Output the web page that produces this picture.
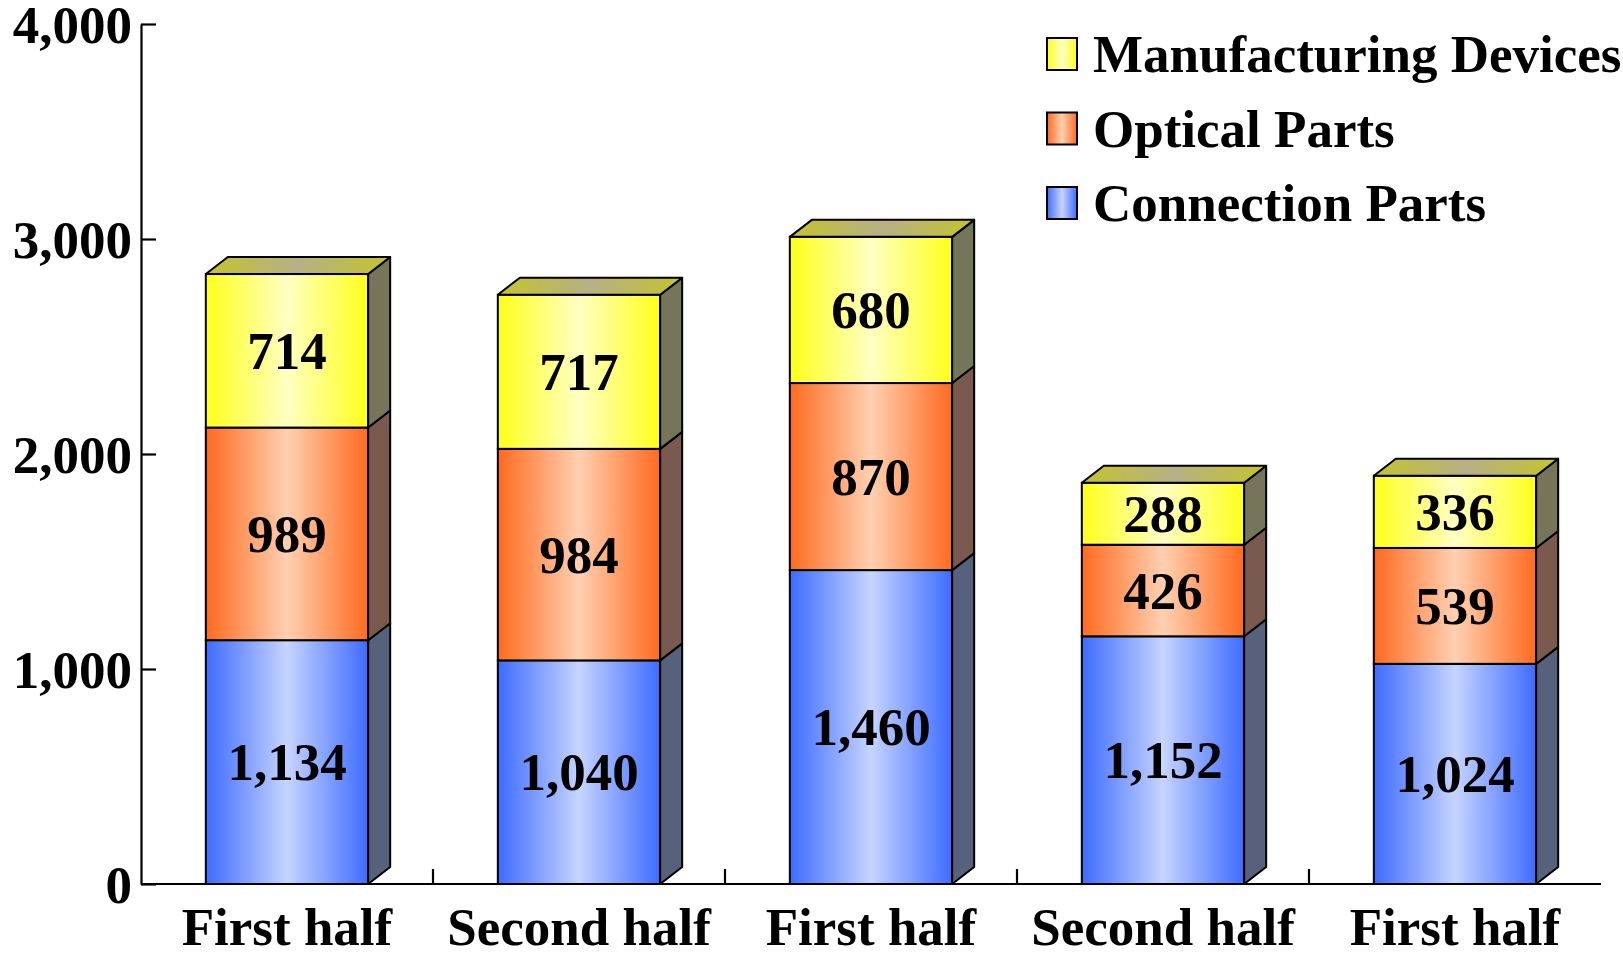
<!DOCTYPE html>
<html>
<head>
<meta charset="utf-8">
<script src="https://cdn.jsdelivr.net/npm/d3@7"></script>
<style>
  html, body { margin: 0; padding: 0; background: #fff; }
  text { font-family: "Liberation Serif", "Times New Roman", serif; font-weight: bold; fill: #000; }
</style>
</head>
<body>
<div id="chart-container"></div>
<script>
// data
const categories = ["First half", "Second half", "First half", "Second half", "First half"];
const seriesNames = ["Connection Parts", "Optical Parts", "Manufacturing Devices"];
const connectionParts = [1134, 1040, 1460, 1152, 1024];
const opticalParts = [989, 984, 870, 426, 539];
const manufacturingDevices = [714, 717, 680, 288, 336];
const yTicks = [0, 1000, 2000, 3000, 4000];

const svgWidth = 1623;
const svgHeight = 953;
const margin = { top: 24, right: 22, bottom: 69, left: 141 };

const fontSize = 53;
const depthX = 22;
const depthY = 17;

// colours per series: front edge, front centre, side
const palette = {
  "Connection Parts": { edge: "#3d6bff", light: "#c6d4ff", side: "#58617c" },
  "Optical Parts": { edge: "#ff6a1e", light: "#ffd0b2", side: "#7a5a4e" },
  "Manufacturing Devices": { edge: "#ffff1a", light: "#ffffc2", side: "#757559" },
};

const table = categories.map((c, i) => ({
  idx: i,
  category: c,
  "Connection Parts": connectionParts[i],
  "Optical Parts": opticalParts[i],
  "Manufacturing Devices": manufacturingDevices[i],
}));

const stacked = d3.stack().keys(seriesNames)(table);

const svg = d3
  .select("#chart-container")
  .append("svg")
  .attr("width", svgWidth)
  .attr("height", svgHeight);

const defs = svg.append("defs");
seriesNames.forEach((name, k) => {
  const g = defs
    .append("linearGradient")
    .attr("id", "grad" + k)
    .attr("x1", "0%")
    .attr("x2", "100%")
    .attr("y1", "0%")
    .attr("y2", "0%");
  g.append("stop").attr("offset", "0%").attr("stop-color", palette[name].edge);
  g.append("stop").attr("offset", "50%").attr("stop-color", palette[name].light);
  g.append("stop").attr("offset", "100%").attr("stop-color", palette[name].edge);
});
const topGrad = defs
  .append("linearGradient")
  .attr("id", "gradTop")
  .attr("x1", "0%")
  .attr("x2", "100%");
topGrad.append("stop").attr("offset", "0%").attr("stop-color", "#c4c42c");
topGrad.append("stop").attr("offset", "50%").attr("stop-color", "#b6b086");
topGrad.append("stop").attr("offset", "100%").attr("stop-color", "#c4c42c");

const x = d3
  .scaleBand()
  .domain(table.map((d) => d.idx))
  .range([margin.left, svgWidth - margin.right]);

const y = d3
  .scaleLinear()
  .domain([0, 4000])
  .range([svgHeight - margin.bottom, margin.top]);

const barWidth = x.bandwidth() * 0.556;
const barX = (i) => x(i) + (x.bandwidth() - barWidth) / 2;

// bars, one group per category so the 3d faces overlap correctly
const bars = svg.append("g").attr("class", "bars");
table.forEach((d, i) => {
  const g = bars.append("g");
  const x0 = barX(i);
  const x1 = x0 + barWidth;
  stacked.forEach((layer, k) => {
    const seg = layer[i];
    const yTop = y(seg[1]);
    const yBot = y(seg[0]);
    const name = layer.key;

    g.append("rect")
      .attr("x", x0)
      .attr("y", yTop)
      .attr("width", barWidth)
      .attr("height", yBot - yTop)
      .attr("fill", "url(#grad" + k + ")")
      .attr("stroke", "#000")
      .attr("stroke-width", 2);

    g.append("polygon")
      .attr(
        "points",
        [
          [x1, yTop],
          [x1 + depthX, yTop - depthY],
          [x1 + depthX, yBot - depthY],
          [x1, yBot],
        ].join(" ")
      )
      .attr("fill", palette[name].side)
      .attr("stroke", "#000")
      .attr("stroke-width", 2)
      .attr("stroke-linejoin", "round");

    if (k === stacked.length - 1) {
      g.append("polygon")
        .attr(
          "points",
          [
            [x0, yTop],
            [x0 + depthX, yTop - depthY],
            [x1 + depthX, yTop - depthY],
            [x1, yTop],
          ].join(" ")
        )
        .attr("fill", "url(#gradTop)")
        .attr("stroke", "#000")
        .attr("stroke-width", 2)
        .attr("stroke-linejoin", "round");
    }

    g.append("text")
      .attr("x", x0 + barWidth / 2)
      .attr("y", (yTop + yBot) / 2)
      .attr("text-anchor", "middle")
      .attr("dominant-baseline", "central")
      .attr("font-size", fontSize + "px")
      .text(d3.format(",")(seg[1] - seg[0]));
  });
});

// y axis
const yAxis = svg
  .append("g")
  .attr("transform", `translate(${margin.left},0)`)
  .call(
    d3
      .axisLeft(y)
      .tickValues(yTicks)
      .tickFormat(d3.format(","))
      .tickSizeInner(-15)
      .tickSizeOuter(0)
      .tickPadding(9)
  );
yAxis.select(".domain").attr("stroke-width", 2.2);
yAxis.selectAll(".tick line").attr("stroke-width", 2.2);
yAxis
  .selectAll(".tick text")
  .attr("font-family", '"Liberation Serif", serif')
  .attr("font-weight", "bold")
  .attr("font-size", fontSize + "px")
  .attr("dy", "0.34em");

// x axis
const baseY = y(0);
const xAxis = svg.append("g");
xAxis
  .append("line")
  .attr("x1", margin.left)
  .attr("x2", svgWidth - margin.right)
  .attr("y1", baseY)
  .attr("y2", baseY)
  .attr("stroke", "#000")
  .attr("stroke-width", 2.2);
xAxis
  .selectAll(".xtick")
  .data(table.slice(1))
  .enter()
  .append("line")
  .attr("x1", (d) => x(d.idx))
  .attr("x2", (d) => x(d.idx))
  .attr("y1", baseY)
  .attr("y2", baseY - 15)
  .attr("stroke", "#000")
  .attr("stroke-width", 2.2);
xAxis
  .selectAll(".xlabel")
  .data(table)
  .enter()
  .append("text")
  .attr("x", (d) => x(d.idx) + x.bandwidth() / 2)
  .attr("y", 945)
  .attr("text-anchor", "middle")
  .attr("font-size", fontSize + "px")
  .text((d) => d.category);

// legend, top series first
const legendNames = seriesNames.slice().reverse();
const legend = svg
  .append("g")
  .selectAll(".legend-item")
  .data(legendNames)
  .enter()
  .append("g")
  .attr("transform", (d, i) => `translate(1047, ${54 + i * 74.5})`);
legend
  .append("rect")
  .attr("x", 0)
  .attr("y", -16)
  .attr("width", 30)
  .attr("height", 32)
  .attr("fill", (d) => "url(#grad" + seriesNames.indexOf(d) + ")")
  .attr("stroke", "#000")
  .attr("stroke-width", 2);
legend
  .append("text")
  .attr("x", 46)
  .attr("y", 0)
  .attr("dominant-baseline", "central")
  .attr("font-size", fontSize + "px")
  .text((d) => d);
</script>
</body>
</html>
